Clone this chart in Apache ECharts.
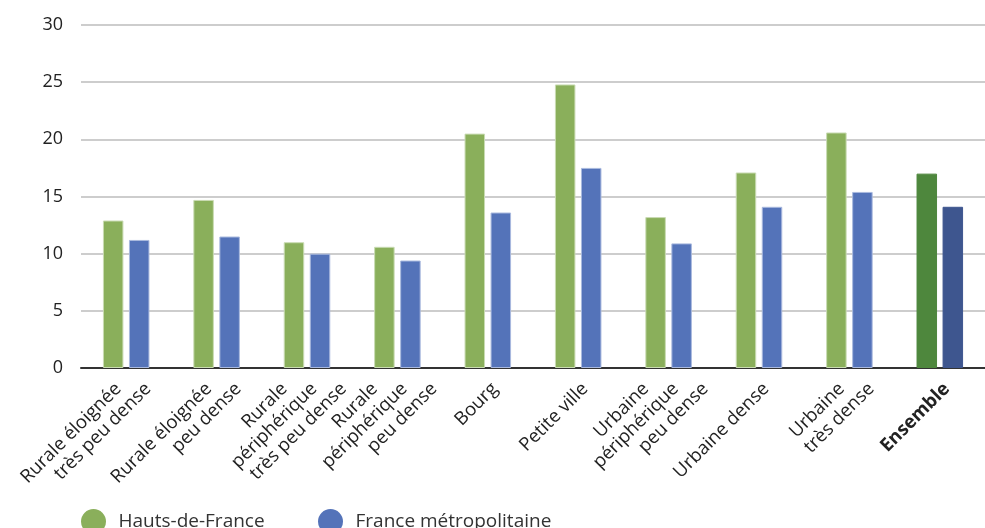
<!DOCTYPE html>
<html>
<head>
<meta charset="utf-8">
<script src="https://cdn.jsdelivr.net/npm/echarts@6/dist/echarts.min.js"></script>
<style>
html,body{margin:0;padding:0;background:#fff;}
#chart{width:985px;height:528px;}
</style>
</head>
<body>
<div id="chart"></div>
<script>
const categories = [
  'Rurale éloignée\ntrès peu dense',
  'Rurale éloignée\npeu dense',
  'Rurale\npériphérique\ntrès peu dense',
  'Rurale\npériphérique\npeu dense',
  'Bourg',
  'Petite ville',
  'Urbaine\npériphérique\npeu dense',
  'Urbaine dense',
  'Urbaine\ntrès dense',
  'Ensemble'
];
const hautsDeFrance = [12.9, 14.7, 11.0, 10.6, 20.5, 24.8, 13.2, 17.1, 20.6, 17.0];
const franceMetro   = [11.2, 11.5, 10.0, 9.4, 13.6, 17.5, 10.9, 14.1, 15.4, 14.1];
const yTicks = [0, 5, 10, 15, 20, 25, 30];
const seriesNames = ['Hauts-de-France', 'France métropolitaine'];

const GREEN = '#8AAF5B', BLUE = '#5473B9';
const GREEN_DARK = '#4E873D', BLUE_DARK = '#3E568F';

function mk(values, color, dark, border) {
  return values.map((v, i) => {
    const last = categories[i] === 'Ensemble';
    return { value: v, itemStyle: { color: last ? dark : color, borderColor: last ? dark : border } };
  });
}

const labelFont = '"Open Sans", "Noto Sans", sans-serif';

// Excel-like rotated multi-line labels: line ends form a horizontal row below the axis.
const LH = 21, OFF = 7, ROWY = 18, FS = 18.5;
const nMax = Math.max.apply(null, categories.map(c => c.split('\n').length));
const D = OFF * Math.SQRT2 - LH / 2;
const rich = {};
for (let n = 1; n <= nMax; n++) {
  const sum = Math.abs(D) + (nMax - n) * LH;
  const H = (sum + D) / 2, E = (sum - D) / 2;
  rich['sp' + n] = { fontSize: 1, lineHeight: Math.max(H, 0.01), align: 'left' };
  for (let k = 0; k < n; k++) {
    const pad = (n - 1 - k) * LH + E;
    const base = { fontFamily: labelFont, fontSize: FS, color: '#222', align: 'right', lineHeight: LH, padding: [0, pad, 0, 0] };
    rich['a' + n + '_' + k] = base;
    rich['b' + n + '_' + k] = Object.assign({}, base, { fontWeight: 'bold' });
  }
}
const labelMargin = ROWY - Math.SQRT1_2 * (Math.abs(D) + (nMax - 1) * LH + LH / 2);

const legendCommon = {
  top: 509, padding: 0, icon: 'circle', itemWidth: 40, itemHeight: 25,
  textStyle: { fontFamily: labelFont, fontSize: 19, color: '#333', padding: [0, 0, 6, 0] }
};
const chart = echarts.init(document.getElementById('chart'));
chart.setOption({
  animation: false,
  backgroundColor: '#fff',
  grid: { left: 81, top: 25, width: 910, height: 343, containLabel: false },
  legend: [
    Object.assign({ left: 81, data: [seriesNames[0]] }, legendCommon),
    Object.assign({ left: 318, data: [seriesNames[1]] }, legendCommon)
  ],
  xAxis: {
    type: 'category',
    data: categories,
    axisTick: { show: false },
    axisLine: { lineStyle: { color: '#333', width: 2 } },
    axisLabel: {
      interval: 0, rotate: 45, margin: labelMargin,
      align: 'right', verticalAlign: 'top',
      formatter: function (val) {
        const lines = val.split('\n');
        const n = lines.length;
        const st = val === 'Ensemble' ? 'b' : 'a';
        return '{sp' + n + '|\u00a0}\n' + lines.map((l, k) => '{' + st + n + '_' + k + '|' + l + '}').join('\n');
      },
      rich: rich
    }
  },
  yAxis: {
    type: 'value',
    min: yTicks[0], max: yTicks[yTicks.length - 1], interval: yTicks[1] - yTicks[0],
    axisLine: { show: false }, axisTick: { show: false },
    splitLine: { lineStyle: { color: '#bdbdbd', width: 1.5 } },
    axisLabel: { margin: 18, fontFamily: labelFont, fontSize: 18, color: '#222' }
  },
  series: [
    { name: seriesNames[0], type: 'bar', barWidth: 20.5, barGap: '27%', color: GREEN,
      itemStyle: { borderWidth: 1 },
      data: mk(hautsDeFrance, GREEN, GREEN_DARK, '#c9dbb3') },
    { name: seriesNames[1], type: 'bar', barWidth: 20.5, barGap: '27%', color: BLUE,
      itemStyle: { borderWidth: 1 },
      data: mk(franceMetro, BLUE, BLUE_DARK, '#a9b9de') }
  ]
});
</script>
</body>
</html>
